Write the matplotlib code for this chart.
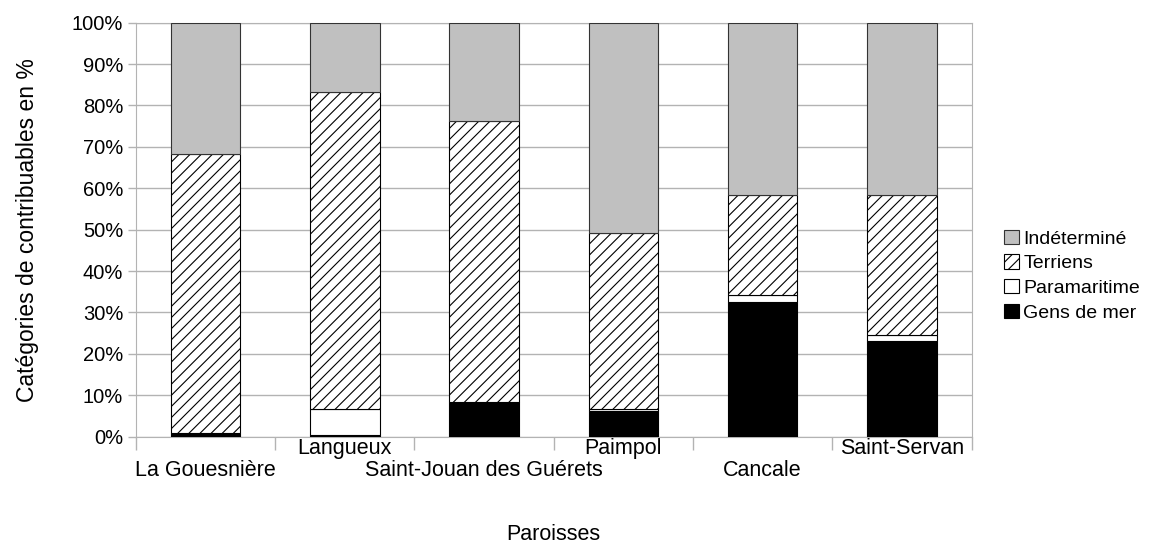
import matplotlib.pyplot as plt
import numpy as np

plt.rcParams['font.family'] = ['Liberation Sans', 'DejaVu Sans']
plt.rcParams['hatch.linewidth'] = 0.8

# Données (en %)
paroisses = ['La Gouesnière', 'Langueux', 'Saint-Jouan des Guérets',
             'Paimpol', 'Cancale', 'Saint-Servan']
gens_de_mer = [0.8, 0.3, 8.4, 6.2, 32.5, 23.1]
paramaritime = [0.0, 6.5, 0.0, 0.5, 1.8, 1.4]
terriens = [67.4, 76.5, 67.9, 42.4, 24.2, 34.0]
indetermine = [100 - a - b - c for a, b, c in zip(gens_de_mer, paramaritime, terriens)]

fig, ax = plt.subplots(figsize=(11.57, 5.48), dpi=100)
fig.subplots_adjust(left=0.1173, right=0.8398, top=0.9586, bottom=0.2031)

x = np.arange(len(paroisses))
w = 0.5
bas = np.zeros(len(x))
b1 = ax.bar(x, gens_de_mer, w, bottom=bas, color='black', edgecolor='black', lw=0.8, zorder=3)
bas += gens_de_mer
b2 = ax.bar(x, paramaritime, w, bottom=bas, color='white', edgecolor='black', lw=0.8, zorder=3)
bas += paramaritime
b3 = ax.bar(x, terriens, w, bottom=bas, color='white', edgecolor='black', hatch='///', lw=0.8, zorder=3)
bas += terriens
b4 = ax.bar(x, indetermine, w, bottom=bas, color='#c0c0c0', edgecolor='#333333', lw=0.8, zorder=3)

ax.set_xlim(-0.5, len(x) - 0.5)
ax.set_ylim(0, 100)
ax.set_yticks(range(0, 101, 10))
ax.set_yticklabels([f'{v}%' for v in range(0, 101, 10)], fontsize=14.5)
ax.yaxis.grid(True, color='#b3b3b3', lw=1, zorder=0)

# étiquettes en quinconce : rang haut (majeures) et rang bas (mineures)
ax.set_xticks(x[1::2])
ax.set_xticklabels(paroisses[1::2], fontsize=15.5)
ax.set_xticks(x[0::2], minor=True)
ax.set_xticklabels(paroisses[0::2], minor=True, fontsize=15.5)
ax.tick_params(axis='x', which='major', length=0, pad=1)
ax.tick_params(axis='x', which='minor', length=0, pad=17)

# traits de séparation entre catégories
sec = ax.secondary_xaxis('bottom')
sec.set_xticks(np.arange(-0.5, len(x), 1))
sec.set_xticklabels([])
sec.tick_params(length=9, color='#b3b3b3', width=1)
sec.spines['bottom'].set_visible(False)

ax.tick_params(axis='y', length=6, color='#b3b3b3', width=1, pad=3)
for s in ax.spines.values():
    s.set_color('#b3b3b3')

ax.set_ylabel('Catégories de contribuables en %', fontsize=16.5, labelpad=24)
ax.set_xlabel('Paroisses', fontsize=15.5, labelpad=31)

ax.legend([b4, b3, b2, b1], ['Indéterminé', 'Terriens', 'Paramaritime', 'Gens de mer'],
          loc='center left', bbox_to_anchor=(0.861, 0.497), bbox_transform=fig.transFigure,
          frameon=False, fontsize=14, handlelength=0.75, handleheight=0.75,
          handletextpad=0.25, labelspacing=0.35, borderaxespad=0)

fig.savefig('out.png', dpi=100)
